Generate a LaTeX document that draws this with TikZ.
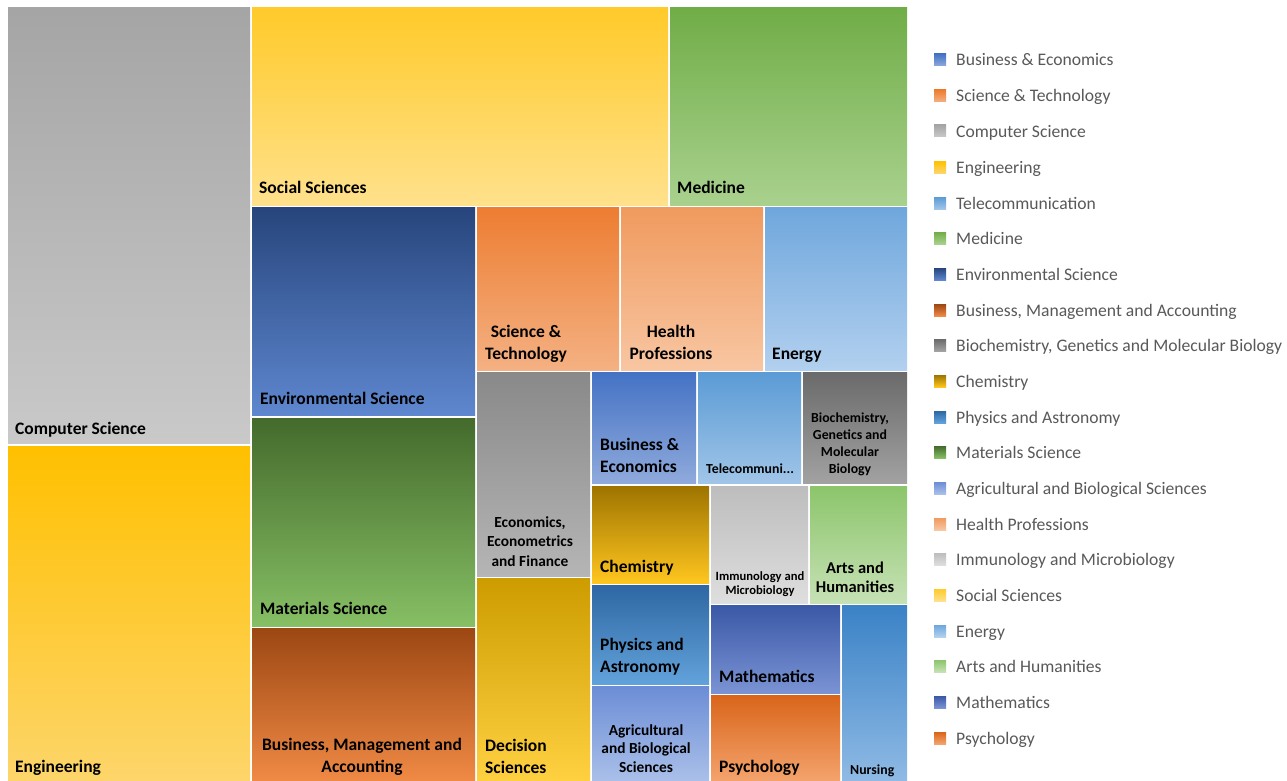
\documentclass[tikz,border=0pt]{standalone}
\usepackage{fontspec}
\setmainfont{Carlito}
\definecolor{csT}{HTML}{A5A5A5}\definecolor{csB}{HTML}{C9C9C9}
\definecolor{enT}{HTML}{FFC000}\definecolor{enB}{HTML}{FDD56A}
\definecolor{ssT}{HTML}{FFCA2A}\definecolor{ssB}{HTML}{FFE18C}
\definecolor{meT}{HTML}{70AD47}\definecolor{meB}{HTML}{A9D18E}
\definecolor{evT}{HTML}{27457C}\definecolor{evB}{HTML}{5E87CF}
\definecolor{maT}{HTML}{446A2C}\definecolor{maB}{HTML}{86BF64}
\definecolor{bmT}{HTML}{9C4713}\definecolor{bmB}{HTML}{F08A45}
\definecolor{stT}{HTML}{ED7D31}\definecolor{stB}{HTML}{F4B183}
\definecolor{hpT}{HTML}{F09A5E}\definecolor{hpB}{HTML}{F8C6A2}
\definecolor{eyT}{HTML}{6FA7DC}\definecolor{eyB}{HTML}{B2D0EF}
\definecolor{ecT}{HTML}{898989}\definecolor{ecB}{HTML}{B5B5B5}
\definecolor{dsT}{HTML}{CC9C00}\definecolor{dsB}{HTML}{FFD141}
\definecolor{beT}{HTML}{4472C4}\definecolor{beB}{HTML}{8FAADC}
\definecolor{tcT}{HTML}{5B9BD5}\definecolor{tcB}{HTML}{A0C5E8}
\definecolor{bcT}{HTML}{6A6A6A}\definecolor{bcB}{HTML}{A2A2A2}
\definecolor{chT}{HTML}{9E7400}\definecolor{chB}{HTML}{FFC61F}
\definecolor{imT}{HTML}{BDBDBD}\definecolor{imB}{HTML}{DEDEDE}
\definecolor{ahT}{HTML}{8CC56B}\definecolor{ahB}{HTML}{C6E1B5}
\definecolor{paT}{HTML}{2E67A3}\definecolor{paB}{HTML}{62A2DB}
\definecolor{agT}{HTML}{6C8DD6}\definecolor{agB}{HTML}{AAC0E9}
\definecolor{mtT}{HTML}{3A58A6}\definecolor{mtB}{HTML}{7A93D4}
\definecolor{psT}{HTML}{D9651A}\definecolor{psB}{HTML}{F4A36D}
\definecolor{nuT}{HTML}{3A82C6}\definecolor{nuB}{HTML}{8FBAE5}
\definecolor{legtext}{HTML}{595959}
\tikzset{
  lbl/.style={inner sep=0pt,font=\bfseries\fontsize{17.5}{21.5}\selectfont,text=black},
  lbll/.style={lbl,anchor=base west,align=left},
  lblc/.style={lbl,anchor=base,align=center},
  legt/.style={inner sep=0pt,anchor=base west,font=\fontsize{17.6}{20}\selectfont,text=legtext},
}
\newcommand\tmbox[7]{\path[top color=#6,bottom color=#7] (#2,#3) rectangle (#4,#5) coordinate (#1);}
\newcommand\legsq[4]{\path[top color=#3,bottom color=#4] (934,#2-6) rectangle (946,#2+6) coordinate (#1);}
\begin{document}
\begin{tikzpicture}[x=1pt,y=-1pt]
\useasboundingbox (0,0) rectangle (1287,781);
\fill[white] (0,0) rectangle (1287,781);
% boxes
\tmbox{cs}{8}{8}{250}{443}{csT}{csB}
\tmbox{en}{8}{446}{250}{781}{enT}{enB}
\tmbox{ss}{252}{8}{668}{205}{ssT}{ssB}
\tmbox{me}{670}{8}{907}{205}{meT}{meB}
\tmbox{ev}{252}{207}{475}{415}{evT}{evB}
\tmbox{ma}{252}{418}{475}{626}{maT}{maB}
\tmbox{bm}{252}{628}{475}{781}{bmT}{bmB}
\tmbox{st}{477}{207}{619}{370}{stT}{stB}
\tmbox{hp}{621}{207}{763}{370}{hpT}{hpB}
\tmbox{ey}{765}{207}{907}{370}{eyT}{eyB}
\tmbox{ec}{477}{372}{590}{576}{ecT}{ecB}
\tmbox{ds}{477}{578}{590}{781}{dsT}{dsB}
\tmbox{be}{592}{372}{696}{483}{beT}{beB}
\tmbox{tc}{698}{372}{801}{483}{tcT}{tcB}
\tmbox{bc}{803}{372}{907}{483}{bcT}{bcB}
\tmbox{ch}{592}{486}{709}{583}{chT}{chB}
\tmbox{im}{711}{486}{808}{603}{imT}{imB}
\tmbox{ah}{810}{486}{907}{603}{ahT}{ahB}
\tmbox{pa}{592}{585}{709}{684}{paT}{paB}
\tmbox{ag}{592}{686}{709}{781}{agT}{agB}
\tmbox{mt}{711}{605}{840}{693}{mtT}{mtB}
\tmbox{ps}{711}{695}{840}{781}{psT}{psB}
\tmbox{nu}{842}{605}{907}{781}{nuT}{nuB}
% labels
\node[lbll] (lcs) at (15,434) {Computer Science};
\node[lbll] (len) at (15,772) {Engineering};
\node[lbll] (lss) at (259,193) {Social Sciences};
\node[lbll] (lme) at (677,193) {Medicine};
\node[lbll] (lev) at (260,404) {Environmental Science};
\node[lbll] (lma) at (260,614) {Materials Science};
\node[lblc] (lbm) at (362,772) {Business, Management and\\Accounting};
\node[lblc] (lst) at (526,359) {Science \&\\Technology};
\node[lblc] (lhp) at (671,359) {Health\\Professions};
\node[lbll] (ley) at (772,359) {Energy};
\node[lblc,font=\bfseries\fontsize{15.4}{19.5}\selectfont] (lec) at (530,566) {Economics,\\Econometrics\\and Finance};
\node[lbll] (lds) at (485,773) {Decision\\Sciences};
\node[lbll] (lbe) at (600,472) {Business \&\\Economics};
\node[lbll,font=\bfseries\fontsize{13.8}{15}\selectfont] (ltc) at (706,473) {Telecommuni...};
\node[lblc,font=\bfseries\fontsize{13.8}{17}\selectfont] (lbc) at (850,473) {Biochemistry,\\Genetics and\\Molecular\\Biology};
\node[lbll] (lch) at (600,572) {Chemistry};
\node[lblc,font=\bfseries\fontsize{12.6}{14}\selectfont] (lim) at (760,594) {Immunology and\\Microbiology};
\node[lblc,font=\bfseries\fontsize{16.5}{19}\selectfont] (lah) at (855,592) {Arts and\\Humanities};
\node[lbll] (lpa) at (600,672) {Physics and\\Astronomy};
\node[lblc,font=\bfseries\fontsize{15.4}{18.5}\selectfont] (lag) at (646,772) {Agricultural\\and Biological\\Sciences};
\node[lbll] (lmt) at (719,682) {Mathematics};
\node[lbll] (lps) at (719,772) {Psychology};
\node[lbll,font=\bfseries\fontsize{13.8}{15}\selectfont] (lnu) at (850,774) {Nursing};
% legend
\legsq{q1}{60}{beT}{beB}   \node[legt] (t1) at (956,66) {Business \& Economics};
\legsq{q2}{96}{stT}{stB}   \node[legt] (t2) at (956,102) {Science \& Technology};
\legsq{q3}{131}{csT}{csB}  \node[legt] (t3) at (956,137) {Computer Science};
\legsq{q4}{167}{enT}{enB}  \node[legt] (t4) at (956,173) {Engineering};
\legsq{q5}{203}{tcT}{tcB}  \node[legt] (t5) at (956,209) {Telecommunication};
\legsq{q6}{238}{meT}{meB}  \node[legt] (t6) at (956,244) {Medicine};
\legsq{q7}{274}{evT}{evB}  \node[legt] (t7) at (956,280) {Environmental Science};
\legsq{q8}{310}{bmT}{bmB}  \node[legt] (t8) at (956,316) {Business, Management and Accounting};
\legsq{q9}{345}{bcT}{bcB}  \node[legt] (t9) at (956,351) {Biochemistry, Genetics and Molecular Biology};
\legsq{q10}{381}{chT}{chB} \node[legt] (t10) at (956,387) {Chemistry};
\legsq{q11}{417}{paT}{paB} \node[legt] (t11) at (956,423) {Physics and Astronomy};
\legsq{q12}{452}{maT}{maB} \node[legt] (t12) at (956,458) {Materials Science};
\legsq{q13}{488}{agT}{agB} \node[legt] (t13) at (956,494) {Agricultural and Biological Sciences};
\legsq{q14}{524}{hpT}{hpB} \node[legt] (t14) at (956,530) {Health Professions};
\legsq{q15}{559}{imT}{imB} \node[legt] (t15) at (956,565) {Immunology and Microbiology};
\legsq{q16}{595}{ssT}{ssB} \node[legt] (t16) at (956,601) {Social Sciences};
\legsq{q17}{631}{eyT}{eyB} \node[legt] (t17) at (956,637) {Energy};
\legsq{q18}{666}{ahT}{ahB} \node[legt] (t18) at (956,672) {Arts and Humanities};
\legsq{q19}{702}{mtT}{mtB} \node[legt] (t19) at (956,708) {Mathematics};
\legsq{q20}{738}{psT}{psB} \node[legt] (t20) at (956,744) {Psychology};
\end{tikzpicture}
\end{document}
